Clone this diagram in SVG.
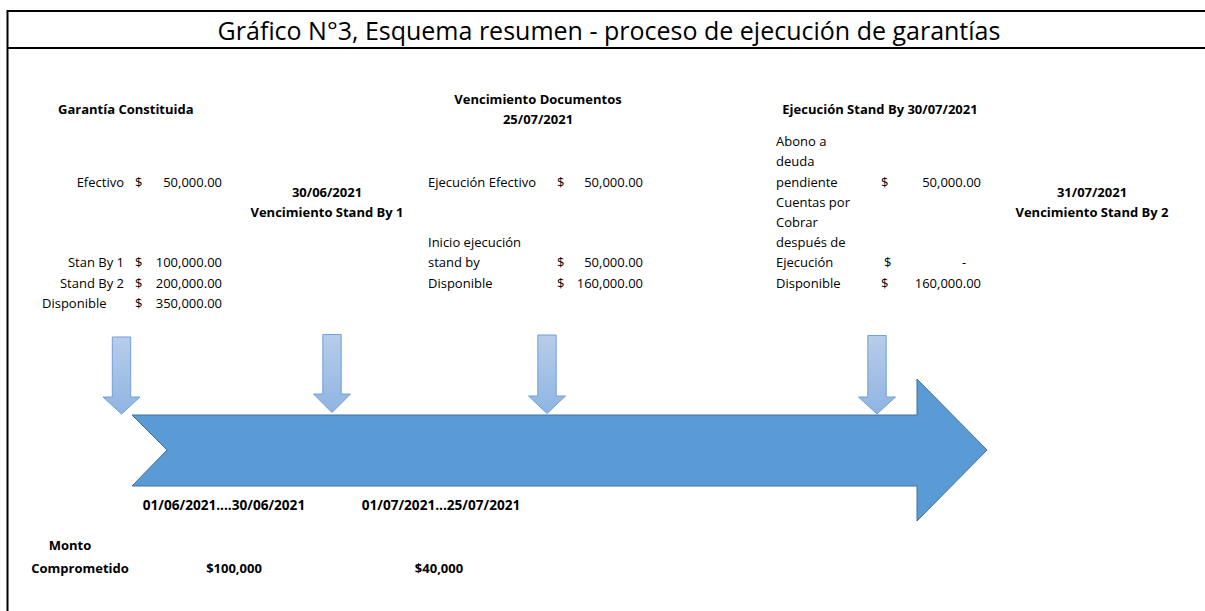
<svg xmlns="http://www.w3.org/2000/svg" width="1205" height="611" viewBox="0 0 1205 611">
<style>
text{font-family:"Open Sans","Noto Sans","DejaVu Sans",sans-serif;fill:#000;font-size:13px}
.b{font-weight:bold;font-size:13px}
.p{font-size:13.6px}
.m{text-anchor:middle}
.e{text-anchor:end}
.title{font-size:25px;text-anchor:middle}
.frame{stroke:#000;stroke-width:2;fill:none}
.small{fill:url(#g);stroke:#6FA0D8;stroke-width:1}
</style>
<defs>
<linearGradient id="g" x1="0" y1="0" x2="0" y2="1">
<stop offset="0" stop-color="#B7CDEA"/>
<stop offset="1" stop-color="#8FB4E2"/>
</linearGradient>
</defs>
<rect width="1205" height="611" fill="#fff"/>
<g id="frame">
<path class="frame" d="M7.5,611 V11 H1205 M7.5,48 H1205"/>
<text class="title" x="609" y="40">Gráfico N°3, Esquema resumen - proceso de ejecución de garantías</text>
</g>
<g id="timeline">
<polygon points="132,415 917,415 917,379 987,450 917,521 917,486 132,486 167,450" fill="#5B9BD5" stroke="#41719C" stroke-width="1"/>
</g>
<g id="connectors">
<polygon class="small" points="112.3,337 130.7,337 130.7,397 140,397 121.5,414 103,397 112.3,397"/>
<polygon class="small" points="322.8,334.5 341.2,334.5 341.2,394 350.5,394 332,412.5 313.5,394 322.8,394"/>
<polygon class="small" points="537.8,335 556.2,335 556.2,396 565.5,396 547,413.5 528.5,396 537.8,396"/>
<polygon class="small" points="867.8,335.5 886.2,335.5 886.2,397 895.5,397 877,414 858.5,397 867.8,397"/>
</g>
<g id="garantia">
<text class="b" x="58" y="114">Garantía Constituida</text>
<text class="e" x="124" y="187">Efectivo</text><text x="135" y="187">$</text><text class="e" x="222" y="187">50,000.00</text>
<text class="e" x="124" y="267">Stan By 1</text><text x="135" y="267">$</text><text class="e" x="222" y="267">100,000.00</text>
<text class="e" x="124" y="288">Stand By 2</text><text x="135" y="288">$</text><text class="e" x="222" y="288">200,000.00</text>
<text x="42" y="308">Disponible</text><text x="135" y="308">$</text><text class="e" x="222" y="308">350,000.00</text>
</g>
<g id="standby1">
<text class="b m" x="327" y="197">30/06/2021</text>
<text class="b m" x="327" y="217">Vencimiento Stand By 1</text>
</g>
<g id="documentos">
<text class="b m" x="538" y="104">Vencimiento Documentos</text>
<text class="b m" x="538" y="124">25/07/2021</text>
<text x="428" y="187">Ejecución Efectivo</text><text x="557" y="187">$</text><text class="e" x="643" y="187">50,000.00</text>
<text x="428" y="247">Inicio ejecución</text>
<text x="428" y="267">stand by</text><text x="557" y="267">$</text><text class="e" x="643" y="267">50,000.00</text>
<text x="428" y="288">Disponible</text><text x="557" y="288">$</text><text class="e" x="643" y="288">160,000.00</text>
</g>
<g id="ejecucion">
<text class="b m" x="880" y="114">Ejecución Stand By 30/07/2021</text>
<text x="776" y="146">Abono a</text>
<text x="776" y="166">deuda</text>
<text x="776" y="187">pendiente</text><text x="881" y="187">$</text><text class="e" x="981" y="187">50,000.00</text>
<text x="776" y="207">Cuentas por</text>
<text x="776" y="227">Cobrar</text>
<text x="776" y="247">después de</text>
<text x="776" y="267">Ejecución</text><text x="884" y="267">$</text><text class="m" x="964" y="267">-</text>
<text x="776" y="288">Disponible</text><text x="881" y="288">$</text><text class="e" x="981" y="288">160,000.00</text>
</g>
<g id="standby2">
<text class="b m" x="1092" y="197">31/07/2021</text>
<text class="b m" x="1092" y="217">Vencimiento Stand By 2</text>
</g>
<g id="periodos">
<text class="b m p" x="224" y="510">01/06/2021....30/06/2021</text>
<text class="b m p" x="441" y="510">01/07/2021...25/07/2021</text>
</g>
<g id="monto">
<text class="b m" x="70" y="550">Monto</text>
<text class="b m" x="80" y="573">Comprometido</text>
<text class="b m" x="234" y="573">$100,000</text>
<text class="b m" x="439" y="573">$40,000</text>
</g>
</svg>
